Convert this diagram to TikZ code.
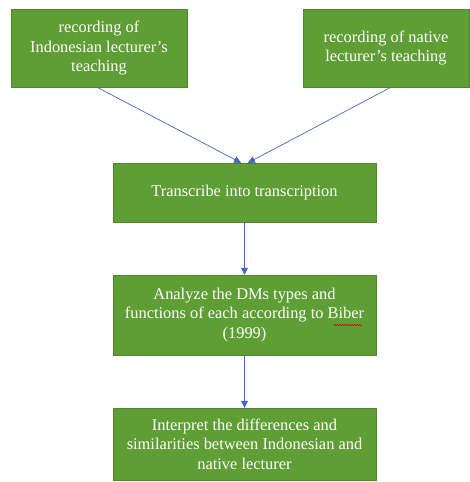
\documentclass[tikz,border=0pt]{standalone}
\usepackage{fontspec}
\setmainfont{Liberation Serif}
\usetikzlibrary{arrows.meta,positioning,decorations.pathmorphing}
\definecolor{stepgreen}{RGB}{94,158,52}
\definecolor{flowblue}{RGB}{68,104,196}
\tikzset{
  stepbox/.style={fill=stepgreen,draw=stepgreen!85!black,line width=0.4pt,text=white,
    align=center,inner sep=0pt,font=\fontsize{16.4}{19.5}\selectfont},
  flow/.style={draw=flowblue,line width=0.7pt,-{Triangle[width=7pt,length=7pt]}}
}
\begin{document}
\begin{tikzpicture}[x=1pt,y=-1pt]
\useasboundingbox (0,0) rectangle (469,482);
% sources
\node[stepbox,minimum width=176pt,minimum height=78pt] (recindo) at (99,48)
  {recording of\\Indonesian lecturer's\\teaching};
\node[stepbox,minimum width=166pt,minimum height=78pt] (recnative) at (386,48)
  {recording of native\\lecturer's teaching};
% steps
\node[stepbox,minimum width=263pt,minimum height=59pt] (transcribe) at (244.5,192.5)
  {Transcribe into transcription};
\node[stepbox,minimum width=263pt,minimum height=80pt] (analyze) at (244.5,315)
  {Analyze the DMs types and\\functions of each according to Biber\\(1999)};
\node[stepbox,minimum width=263pt,minimum height=72pt] (interpret) at (244.5,444)
  {Interpret the differences and\\similarities between Indonesian and\\native lecturer};
% spelling squiggle
\draw[red!85!black,line width=0.5pt,decorate,decoration={snake,amplitude=0.7pt,segment length=2.5pt}]
  (334,325) -- (362,325);
% arrows
\draw[flow] ([xshift=-2pt]recindo.south) -- ([xshift=-3.5pt]transcribe.north);
\draw[flow] ([xshift=5pt]recnative.south) -- ([xshift=3.5pt]transcribe.north);
\draw[flow] (transcribe) -- (analyze);
\draw[flow] (analyze) -- (interpret);
\end{tikzpicture}
\end{document}
